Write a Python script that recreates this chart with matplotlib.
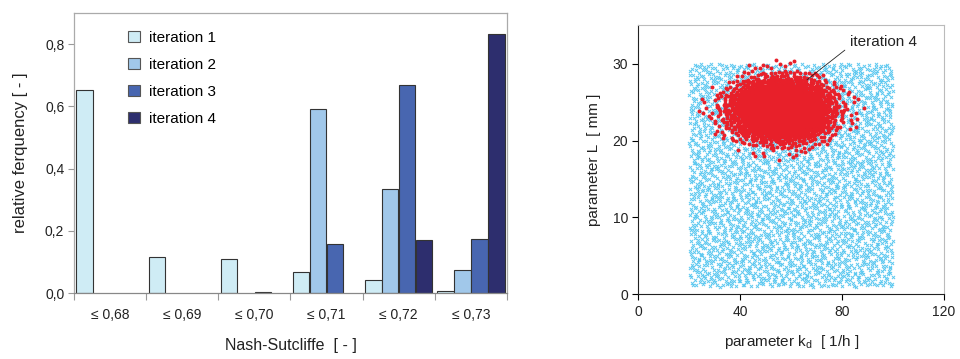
import numpy as np
import matplotlib
matplotlib.use("Agg")
import matplotlib.pyplot as plt
from matplotlib.patches import Patch

plt.rcParams['font.family'] = ['Liberation Sans', 'DejaVu Sans']

# ---- left chart data ----
categories = ["\u2264 0,68", "\u2264 0,69", "\u2264 0,70", "\u2264 0,71", "\u2264 0,72", "\u2264 0,73"]
series_names = ["iteration 1", "iteration 2", "iteration 3", "iteration 4"]
iter1 = [0.653, 0.116, 0.109, 0.068, 0.042, 0.006]
iter2 = [0.0, 0.0, 0.0, 0.590, 0.333, 0.074]
iter3 = [0.0, 0.0, 0.003, 0.157, 0.667, 0.174]
iter4 = [0.0, 0.0, 0.0, 0.0, 0.170, 0.832]
bar_colors = ["#cfecf5", "#a1c8ea", "#4866b0", "#2d2e6e"]
y_ticks = [0.0, 0.2, 0.4, 0.6, 0.8]
y_ticklabels = ["0,0", "0,2", "0,4", "0,6", "0,8"]

# ---- right chart: extents of the two point clouds ----
all_kd_range = [20, 100]      # 1/h
all_L_range = [1, 30]         # mm
n_all = 3000
it4_center = [56, 24]         # kd, L
it4_spread = [10.0, 2.0]      # kd, L
n_it4 = 3000
x_ticks_r = [0, 40, 80, 120]
y_ticks_r = [0, 10, 20, 30]


def halton(n, base):
    out = np.zeros(n)
    for i in range(n):
        f, r, k = 1.0, 0.0, i + 1
        while k > 0:
            f /= base
            r += f * (k % base)
            k //= base
        out[i] = r
    return out


u1, u2 = halton(n_all, 2), halton(n_all, 3)
all_kd = all_kd_range[0] + u1 * (all_kd_range[1] - all_kd_range[0])
all_L = all_L_range[0] + u2 * (all_L_range[1] - all_L_range[0])

v1, v2 = halton(n_it4, 5), halton(n_it4, 7)
rad = np.sqrt(-2 * np.log(1 - v1 * 0.996))
ang = 2 * np.pi * v2
it4_kd = it4_center[0] + it4_spread[0] * rad * np.cos(ang)
it4_L = it4_center[1] + it4_spread[1] * rad * np.sin(ang)

fig = plt.figure(figsize=(9.6, 3.59), dpi=100)

# ---- left axes ----
ax = fig.add_axes([0.0771, 0.1838, 0.451, 0.780])
n = len(categories)
x = np.arange(n)
bw = 0.235
offsets = [-1.5 * bw, -0.5 * bw, 0.5 * bw, 1.5 * bw]
for vals, col, off in zip([iter1, iter2, iter3, iter4], bar_colors, offsets):
    v = np.array(vals)
    mask = v > 0
    ax.bar(x[mask] + off, v[mask], width=bw * 0.97, color=col,
           edgecolor="#333333", linewidth=0.8)
ax.set_xlim(-0.5, n - 0.5)
ax.set_ylim(0, 0.9)
ax.set_yticks(y_ticks)
ax.set_yticklabels(y_ticklabels, fontsize=10, color="#222222")
ax.set_xticks(np.arange(n + 1) - 0.5)
ax.set_xticklabels([])
ax.set_xticks(x, minor=True)
ax.set_xticklabels(categories, minor=True, fontsize=10, color="#222222")
ax.tick_params(axis='x', which='major', direction='out', length=5, color="#999999")
ax.tick_params(axis='x', which='minor', length=0, pad=10.5)
ax.tick_params(axis='y', direction='out', length=4, color="#999999", pad=3)
for s in ax.spines.values():
    s.set_color("#aaaaaa")
    s.set_linewidth(0.9)
ax.spines['bottom'].set_color("#888888")
ax.set_xlabel("Nash-Sutcliffe  [ - ]", fontsize=11.5, labelpad=12, color="#222222")
ax.set_ylabel("relative ferquency [ - ]", fontsize=12, labelpad=12, color="#222222")
handles = [Patch(facecolor=c, edgecolor="#555555", linewidth=0.8, label=l)
           for c, l in zip(bar_colors, series_names)]
ax.legend(handles=handles, loc='upper left', bbox_to_anchor=(0.094, 0.985),
          frameon=False, fontsize=11, handlelength=0.75, handleheight=0.75,
          handletextpad=0.6, labelspacing=0.85)

# ---- right axes ----
ax2 = fig.add_axes([0.665, 0.180, 0.3184, 0.750])
ax2.scatter(all_kd, all_L, marker='x', s=5, linewidths=0.7, color="#5cc8f0", zorder=2)
ax2.scatter(it4_kd, it4_L, marker='o', s=8, linewidths=0, color="#e8202a", zorder=3)
ax2.set_xlim(0, 120)
ax2.set_ylim(0, 35)
ax2.set_xticks(x_ticks_r)
ax2.set_yticks(y_ticks_r)
ax2.tick_params(labelsize=10, labelcolor="#222222", direction='out', length=4)
ax2.spines['left'].set_color("#222222")
ax2.spines['bottom'].set_color("#222222")
ax2.spines['top'].set_color("#bbbbbb")
ax2.spines['right'].set_color("#bbbbbb")
ax2.set_xlabel("parameter k$_\\mathregular{d}$  [ 1/h ]", fontsize=11, labelpad=10, color="#222222")
ax2.set_ylabel("parameter L  [ mm ]", fontsize=11, labelpad=8, color="#222222")
ax2.annotate("iteration 4", xy=(66.2, 27.9), xytext=(83, 32.8),
             fontsize=11, color="#222222", va='center', ha='left',
             arrowprops=dict(arrowstyle='-', color="#222222", lw=0.6,
                             shrinkA=2, shrinkB=0, relpos=(0, 0.2)),
             zorder=5)

fig.savefig("out.png", dpi=100)
